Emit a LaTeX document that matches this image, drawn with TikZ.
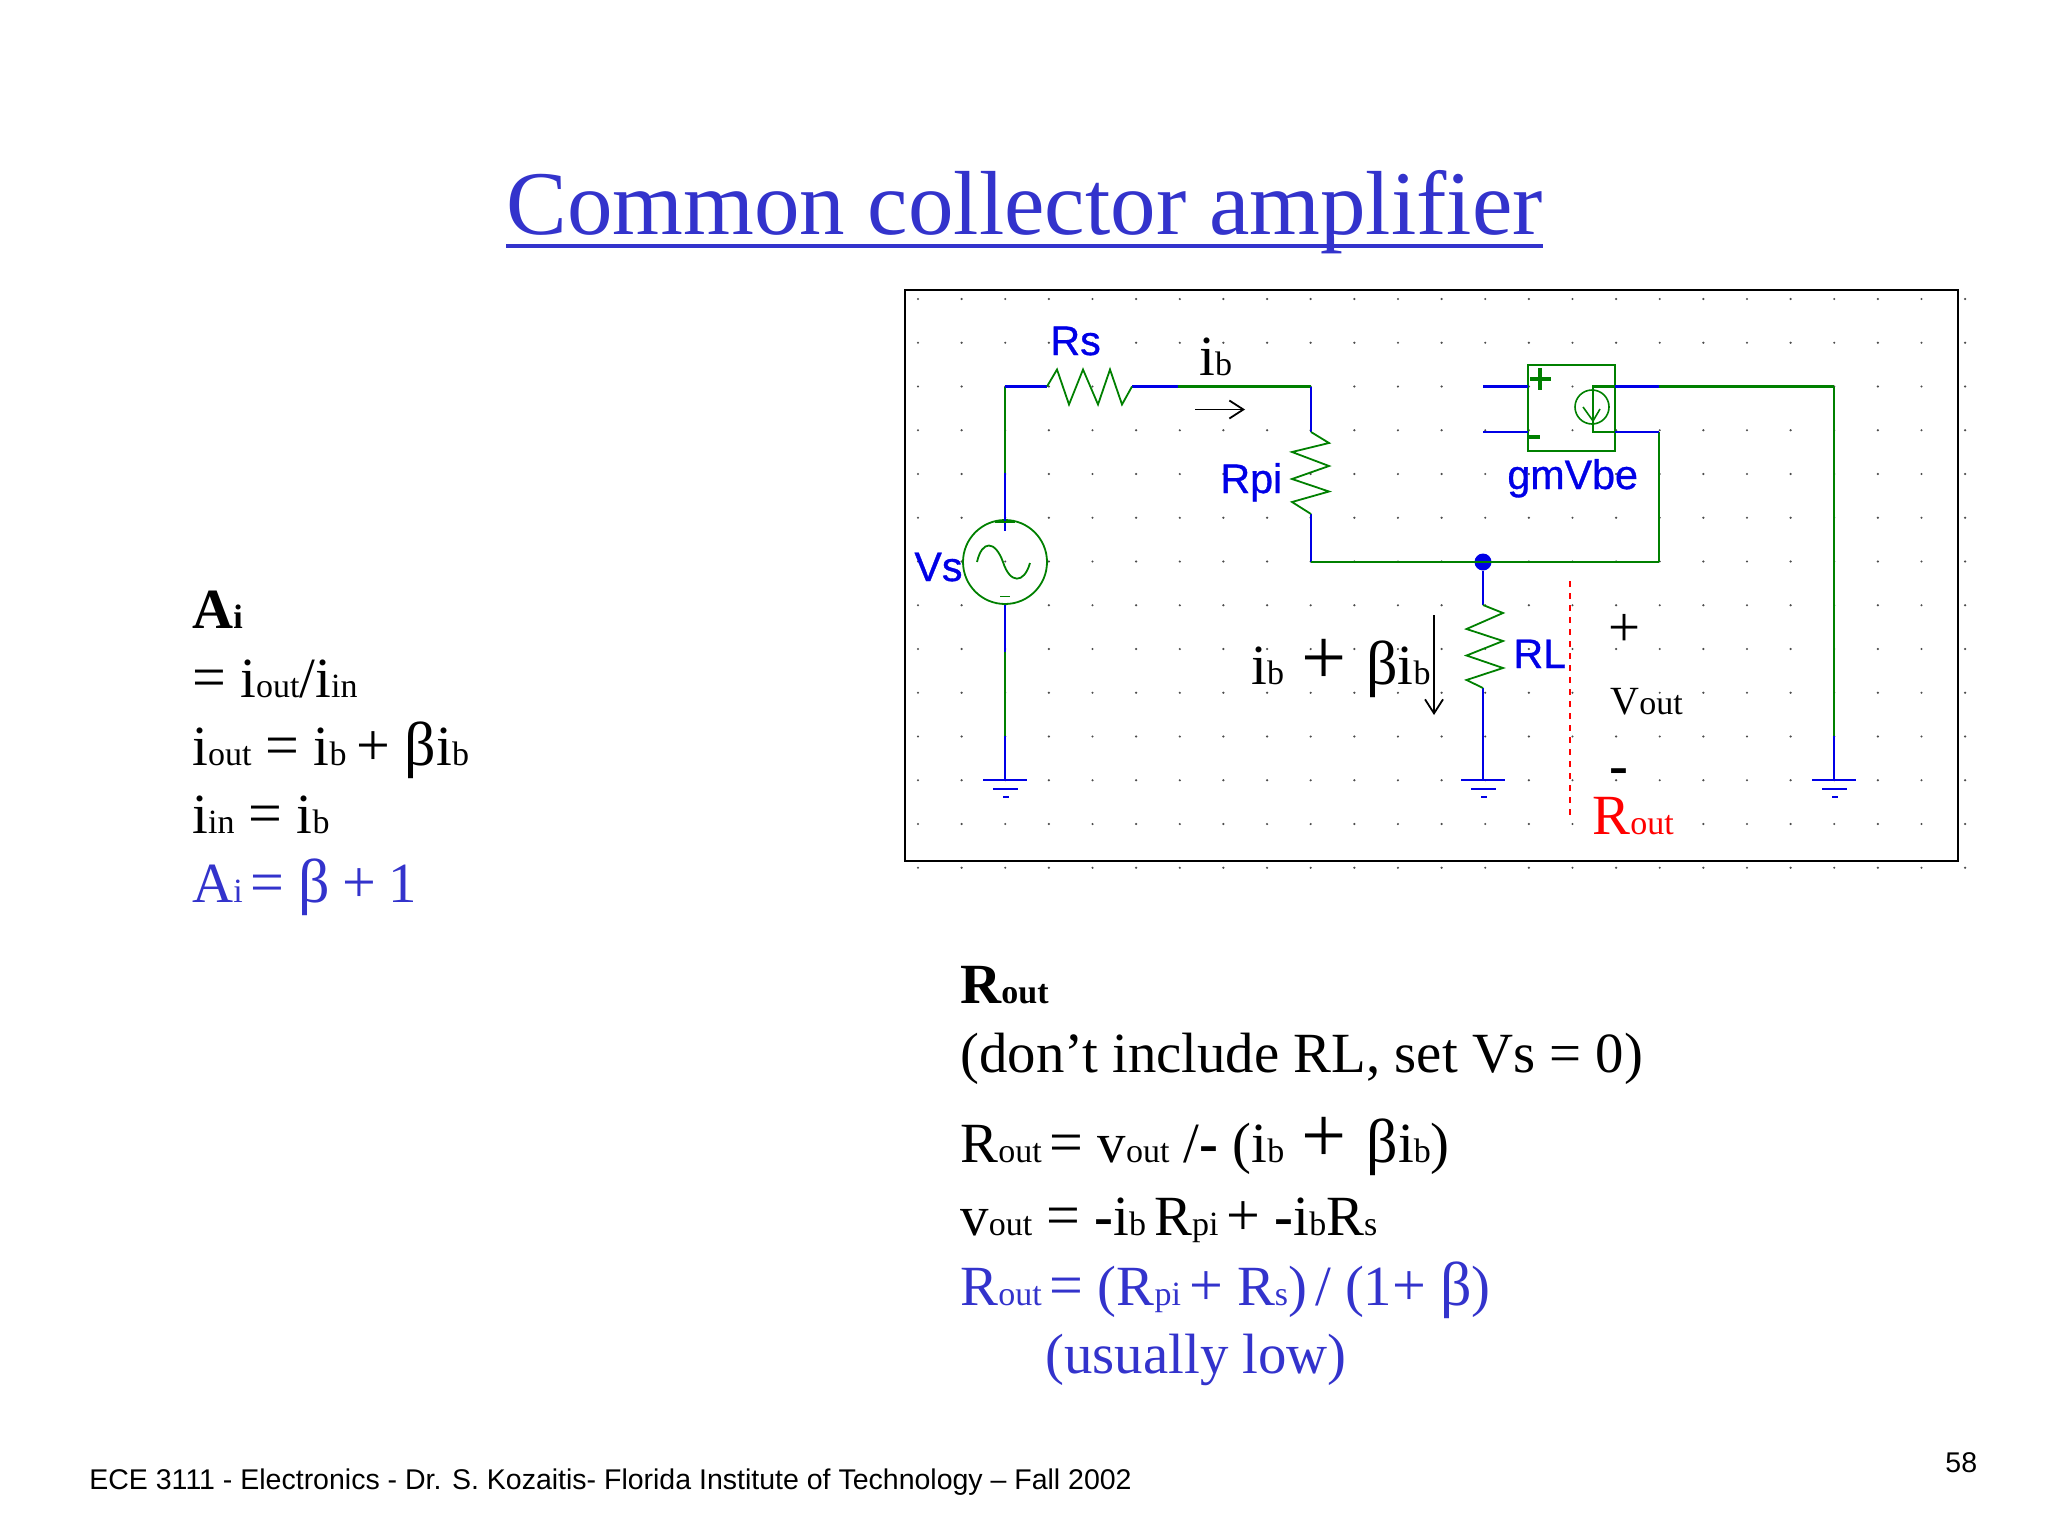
\documentclass[tikz,border=0pt]{standalone}
\usepackage{fontspec}
\setmainfont{Liberation Serif}
\setsansfont{Liberation Sans}
\newfontfamily\netfont[FakeBold=0.8]{Liberation Sans}
\usetikzlibrary{arrows.meta}
\definecolor{slideblue}{RGB}{51,51,204}
\definecolor{netgreen}{RGB}{0,128,0}
\definecolor{netblue}{RGB}{0,0,230}
\newcommand{\lo}[1]{{\fontsize{17}{24}\selectfont #1}}
\newcommand{\bt}{{\fontsize{31}{34}\selectfont β}}
\newcommand{\eq}{{\fontsize{30}{34}\selectfont =}}
\newcommand{\pl}{{\fontsize{30}{34}\selectfont +}}
\newcommand{\bigp}{\kern8.5pt{\fontsize{40}{40}\selectfont +}\kern10pt}
\begin{document}
\begin{tikzpicture}[x=0.5pt,y=-0.5pt,
        griddot/.style={circle,fill=black!70,minimum size=1.2pt,inner sep=0pt},
        gwire/.style={color=netgreen,line width=1.1pt},
        bwire/.style={color=netblue,line width=1.1pt},
        netlabel/.style={anchor=base west,inner sep=0pt,color=netblue,font=\netfont\fontsize{20.6}{24}\selectfont},
        txt/.style={anchor=base west,inner sep=0pt,font=\fontsize{28.4}{34}\selectfont},
        foot/.style={anchor=base west,inner sep=0pt,font=\sffamily\fontsize{14.25}{18}\selectfont},
        >={Straight Barb[length=7pt,width=9pt]}]
\useasboundingbox (0,0) rectangle (2048,1536);
% title
\node[anchor=base west,inner sep=0pt,color=slideblue,font=\fontsize{45.5}{50}\selectfont] (title) at (506,234) {Common collector amplifier};
\coordinate (ula) at (506,246);
\coordinate (ulb) at (1543,246);
\draw[color=slideblue,line width=1.8pt] (ula) -- (ulb);
% schematic grid
\foreach \i in {0,...,24}
  \foreach \j in {0,...,13}
    \node[griddot] (g\i-\j) at ({918+43.63*\i},{299+43.75*\j}) {};
\node[draw,line width=1.1pt,minimum width=526.5pt,minimum height=285.5pt,inner sep=0pt] (frame) at (1431.5,575.5) {};
% wires, corners and ends
\coordinate (lt) at (1005,386.5);
\coordinate (rsa) at (1047,386.5);
\coordinate (rsb) at (1132,386.5);
\coordinate (mid) at (1178,386.5);
\coordinate (rt) at (1311,386.5);
\coordinate (rpa) at (1311,432);
\coordinate (rpb) at (1311,514);
\coordinate (rbl) at (1311,562);
\coordinate (rla) at (1483,605);
\coordinate (rlb) at (1483,688);
\coordinate (sa) at (1483,386.5);
\coordinate (sb) at (1483,432);
\coordinate (ta) at (1528,386.5);
\coordinate (tb) at (1528,432);
\coordinate (oa) at (1593,386.5);
\coordinate (ob) at (1593,432);
\coordinate (ua) at (1615,386.5);
\coordinate (ub) at (1615,432);
\coordinate (va) at (1659,386.5);
\coordinate (vb) at (1659,432);
\coordinate (br) at (1659,562);
\coordinate (tr) at (1834,386.5);
\coordinate (trg) at (1834,736);
\coordinate (gl) at (1005,780);
\coordinate (gm) at (1483,780);
\coordinate (gr) at (1834,780);
\coordinate (la) at (1005,473);
\coordinate (lc) at (1005,652);
\coordinate (ld) at (1005,736);
\node[circle,draw=netgreen,line width=0.9pt,minimum size=42pt,inner sep=0pt] (vs) at (1005,562) {};
\node[circle,fill=netblue,minimum size=8.5pt,inner sep=0pt] (junc) at (1483,562) {};
\node[draw=netgreen,line width=1.2pt,minimum width=43.5pt,minimum height=43pt,inner sep=0pt] (gmbox) at (1571.5,408) {};
\node[circle,draw=netgreen,line width=0.8pt,minimum size=17pt,inner sep=0pt] (gmsrc) at (1592,407) {};
\draw[gwire] (lt) -- (la);
\draw[bwire] (la) -- (vs.north) -- ++(0,12);
\draw[bwire] (vs.south) -- (lc);
\draw[gwire] (lc) -- (ld);
\draw[bwire] (ld) -- (gl);
\draw[bwire] (lt) -- (rsa);
\draw[bwire] (rsb) -- (mid);
\draw[gwire,line width=1.3pt] (mid) -- (rt);
\draw[bwire] (rt) -- (rpa);
\draw[bwire] (rpb) -- (rbl);
\draw[gwire,line width=1.4pt] (rbl) -- (br);
\draw[gwire] (br) -- (vb);
\draw[bwire] (vb) -- (ub);
\draw[bwire] (sa) -- (ta);
\draw[bwire] (sb) -- (tb);
\draw[bwire] (ua) -- (va);
\draw[gwire,line width=1.3pt] (va) -- (tr);
\draw[gwire] (tr) -- (trg);
\draw[bwire] (trg) -- (gr);
\draw[bwire] (junc) -- (rla);
\draw[bwire] (rlb) -- (gm);
% resistors
\draw[gwire,line width=0.9pt] (rsa) -- ++(10,-17) -- ++(12,35) -- ++(14,-35) -- ++(15,35) -- ++(12,-35) -- ++(12,35) -- (rsb);
\draw[gwire,line width=0.9pt] (rpa) -- ++(18,11) -- ++(-37,9) -- ++(37,14) -- ++(-37,13) -- ++(37,12.5) -- ++(-37,10.5) -- (rpb);
\draw[gwire,line width=0.9pt] (rla) -- ++(20,8) -- ++(-36.5,16) -- ++(36.5,12) -- ++(-36.5,14.5) -- ++(36.5,12.5) -- ++(-36.5,12) -- (rlb);
% source
\draw[gwire,line width=0.9pt] (977,562) .. controls (982,540) and (995,540) .. (1003,562) .. controls (1010,584) and (1024,584) .. (1030,563);
\draw[gwire,line width=0.9pt] (995,522) -- (1015,522);
\draw[gwire,line width=0.9pt] (1000,596.5) -- (1010,596.5);
% controlled source
\draw[gwire] (ua) -- (oa) -- (ob) -- (ub);
\draw[gwire,line width=0.8pt] (1583,407) -- (1593,421) -- (1600,409);
\draw[gwire,line width=1.8pt] (1530,379) -- (1551,379);
\draw[gwire,line width=1.8pt] (1540,368) -- (1540,390);
\draw[gwire,line width=1.8pt] (1529,437) -- (1540,437);
\foreach \g in {gl,gm,gr}
  \draw[bwire] (\g) ++(-22,0) -- ++(44,0) ++(-34,9) -- ++(25,0) ++(-15,8) -- ++(6,0);
% schematic labels
\node[netlabel] (lrs) at (1050,355) {Rs};
\node[netlabel] (lrpi) at (1220,493) {Rpi};
\node[netlabel] (lgm) at (1507,489) {gmVbe};
\node[netlabel] (lvs) at (914,581) {Vs};
\node[netlabel] (lrl) at (1513,668) {RL};
\node[txt] (ib) at (1199,375) {i\lo{b}};
\coordinate (iba) at (1195,409.5);
\coordinate (ibb) at (1245,409.5);
\draw[->,line width=0.9pt] (iba) -- (ibb);
\node[txt] (ie) at (1251,684) {i\lo{b}\bigp\bt{}i\lo{b}};
\coordinate (iea) at (1434,615);
\coordinate (ieb) at (1434,715);
\draw[->,line width=0.9pt] (iea) -- (ieb);
\coordinate (cuta) at (1570,581);
\coordinate (cutb) at (1570,820);
\draw[red,dashed,line width=0.9pt] (cuta) -- (cutb);
\node[txt] (vp) at (1608,646) {+};
\node[txt] (vo) at (1610,714) {{\fontsize{20}{24}\selectfont V}\lo{out}};
\node[txt] (vm) at (1609,784) {\textbf{-}};
\node[txt,color=red] (ro) at (1592,834) {R\lo{out}};
% left column
\node[txt] (ai) at (192,628) {\textbf{A\lo{i}}};
\node[txt] (aib) at (192,697) {\eq{} i\lo{out}/i\lo{in}};
\node[txt] (aic) at (192,765) {i\lo{out} \eq{} i\lo{b}\kern5pt\pl{} \bt{}i\lo{b}};
\node[txt] (aid) at (192,833) {i\lo{in} \eq{} i\lo{b}};
\node[txt,color=slideblue] (aie) at (192,902) {A\lo{i}\kern4pt\eq{} \bt{}\kern6pt\pl{}\kern6pt 1};
% right column
\node[txt] (ra) at (960,1003) {\textbf{R\lo{out}}};
\node[txt] (rb) at (960,1072) {(don’t include RL, set Vs = 0)};
\node[txt] (rc) at (960,1162) {R\lo{out}\kern4pt\eq{} v\lo{out} /\textbf{-} (i\lo{b}\bigp\bt{}i\lo{b})};
\node[txt] (rd) at (960,1235) {v\lo{out} \eq{} \textbf{-}i\lo{b}\kern4pt R\lo{pi}\kern4pt\pl{} \textbf{-}i\lo{b}R\lo{s}};
\node[txt,color=slideblue] (re) at (960,1305) {R\lo{out}\kern4pt\eq{} (R\lo{pi}\kern4pt\pl{} R\lo{s})\kern4pt/ (1\pl{} \bt{})};
\node[txt,color=slideblue] (rf) at (1045,1373) {(usually low)};
% footer
\node[foot] (fl) at (89,1489) {ECE 3111 - Electronics - Dr. S. Kozaitis- Florida Institute of Technology – Fall 2002};
\node[foot] (fn) at (1945,1472) {58};
\end{tikzpicture}
\end{document}
